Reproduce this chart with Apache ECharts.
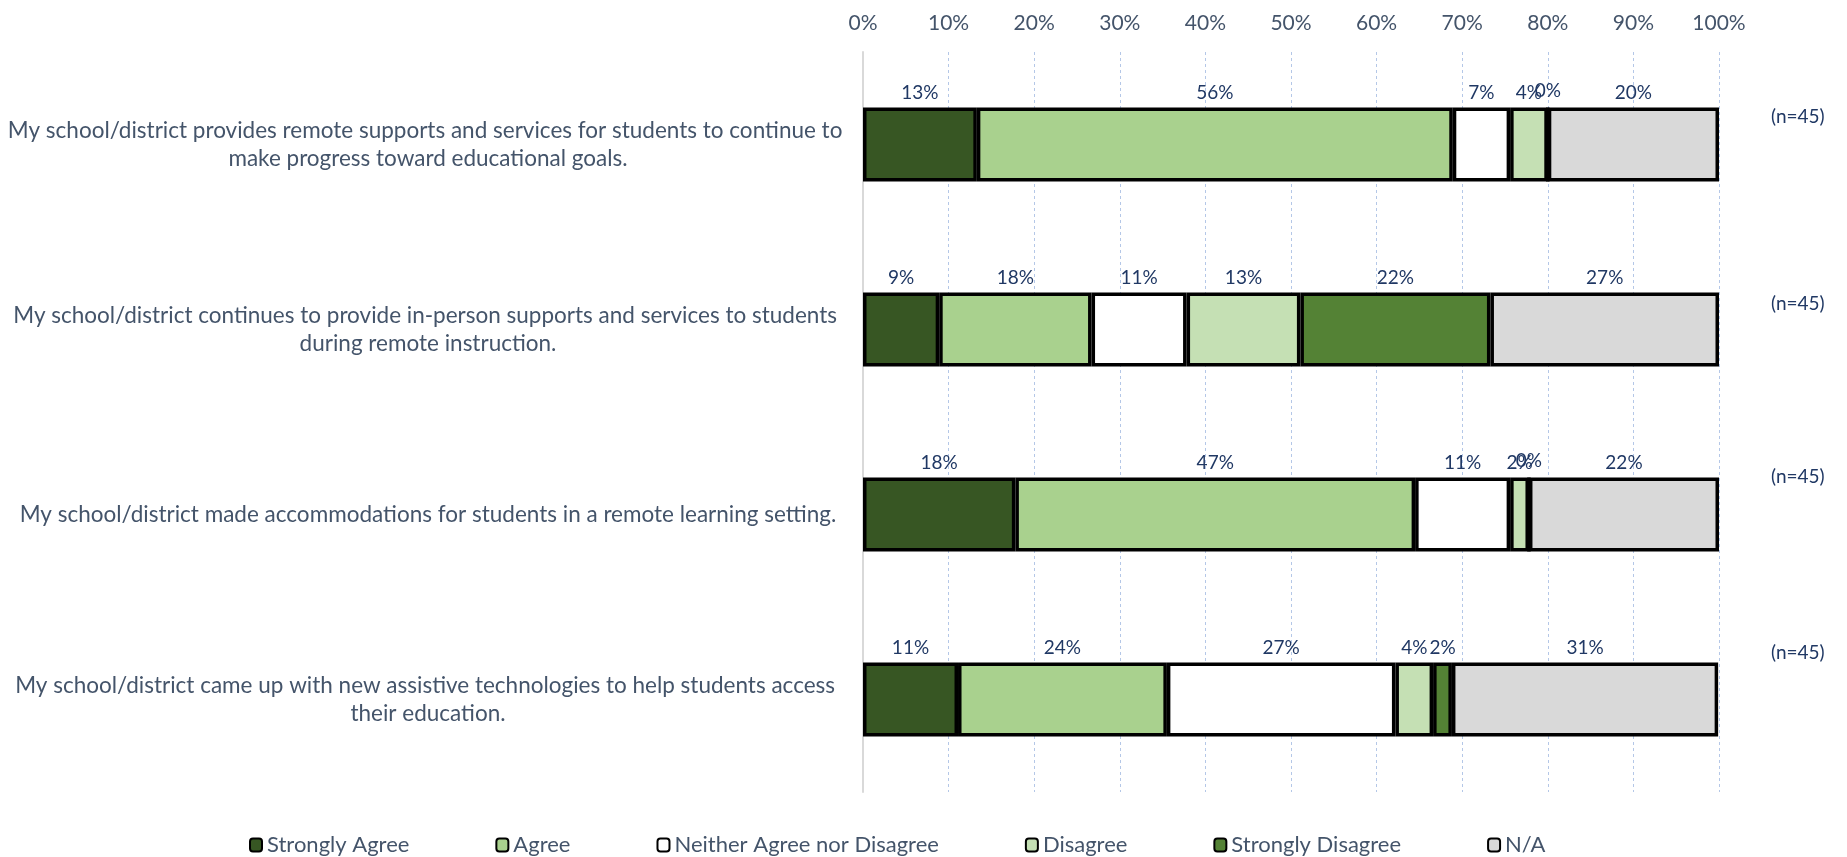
<!DOCTYPE html>
<html>
<head>
<meta charset="utf-8">
<title>Remote supports and services survey</title>
<script src="https://cdn.jsdelivr.net/npm/echarts@6/dist/echarts.min.js"></script>
<style>
  html, body { margin: 0; padding: 0; background: #ffffff; }
  #chart { width: 1847px; height: 857px; }
</style>
</head>
<body>
<div id="chart"></div>
<script>
// Survey statements (one stacked bar each, top to bottom)
const statements = [
  'My school/district provides remote supports and services for students to continue to make progress toward educational goals.',
  'My school/district continues to provide in-person supports and services to students during remote instruction.',
  'My school/district made accommodations for students in a remote learning setting.',
  'My school/district came up with new assistive technologies to help students access their education.'
];

// Response shares in percent, per statement
const stronglyAgree    = [13.3,  8.9, 17.8, 11.1];
const agree            = [55.6, 17.8, 46.7, 24.4];
const neither          = [ 6.7, 11.1, 11.1, 26.7];
const disagree         = [ 4.4, 13.3,  2.2,  4.4];
const stronglyDisagree = [ 0.0, 22.2,  0.0,  2.2];
const notApplicable    = [20.0, 26.7, 22.2, 31.1];

// Respondents per statement
const sampleSizes = [45, 45, 45, 45];

// Percent axis ticks
const tickValues = [0, 10, 20, 30, 40, 50, 60, 70, 80, 90, 100];

const responseNames = ['Strongly Agree', 'Agree', 'Neither Agree nor Disagree', 'Disagree', 'Strongly Disagree', 'N/A'];
const responseData = [stronglyAgree, agree, neither, disagree, stronglyDisagree, notApplicable];
const responseColors = ['#375623', '#A9D18E', '#FFFFFF', '#C5E0B4', '#548235', '#D9D9D9'];

const FONT = 'Lato, "Open Sans", sans-serif';
const TEXT_GREY = '#44546A';
const TEXT_NAVY = '#203864';

const chart = echarts.init(document.getElementById('chart'), null, { renderer: 'canvas' });

const series = responseNames.map((name, i) => ({
  name: name,
  type: 'bar',
  stack: 'total',
  barWidth: 74,
  data: responseData[i],
  itemStyle: {
    color: responseColors[i],
    borderColor: '#000000',
    borderWidth: 3.5
  },
  label: {
    show: true,
    position: 'top',
    distance: 5,
    color: TEXT_NAVY,
    fontFamily: FONT,
    fontSize: 19,
    formatter: p => Math.round(p.value) + '%'
  },
  emphasis: { disabled: true }
}));

// "(n=…)" notes placed to the right of each bar
const noteY = [118, 305, 478, 654];
const notes = sampleSizes.map((n, i) => ({
  type: 'text',
  left: 1771,
  top: noteY[i] - 11,
  style: {
    text: '(n=' + n + ')',
    fill: TEXT_NAVY,
    font: '19px ' + FONT
  }
}));

chart.setOption({
  animation: false,
  grid: { left: 862, right: 128, top: 52, bottom: 65, containLabel: false },
  xAxis: {
    type: 'value',
    position: 'top',
    min: tickValues[0],
    max: tickValues[tickValues.length - 1],
    interval: tickValues[1] - tickValues[0],
    axisLine: { show: false },
    axisTick: { show: false },
    axisLabel: {
      margin: 18,
      color: TEXT_GREY,
      fontFamily: FONT,
      fontSize: 21,
      formatter: '{value}%'
    },
    splitLine: {
      show: true,
      lineStyle: { color: '#B4C7E7', width: 1, type: [3, 3] }
    }
  },
  yAxis: {
    type: 'category',
    inverse: true,
    data: statements,
    axisLine: { show: true, lineStyle: { color: '#D9D9D9', width: 2 } },
    axisTick: { show: false },
    axisLabel: {
      margin: 435,
      align: 'center',
      width: 850,
      overflow: 'break',
      lineHeight: 28,
      color: TEXT_GREY,
      fontFamily: FONT,
      fontSize: 22.5
    }
  },
  legend: {
    left: 244,
    top: 829,
    itemGap: 86,
    itemWidth: 12,
    itemHeight: 13,
    selectedMode: false,
    textStyle: { color: TEXT_GREY, fontFamily: FONT, fontSize: 22 },
    data: responseNames
  },
  graphic: notes,
  series: series
});
</script>
</body>
</html>
